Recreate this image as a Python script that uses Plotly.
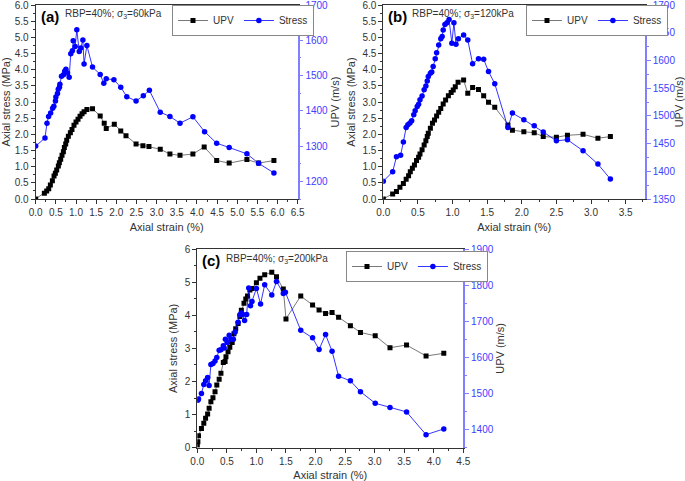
import plotly.graph_objects as go

# ---------- Panel (a): RBP=40%, sigma3=60kPa ----------
a_upv_x = [0, 0.215, 0.273, 0.323, 0.364, 0.414, 0.455, 0.488, 0.521, 0.562, 0.587, 0.62, 0.653, 0.687,
           0.711, 0.744, 0.769, 0.81, 0.86, 0.90, 0.95, 1.0, 1.05, 1.1, 1.15, 1.2, 1.27, 1.41, 1.60, 1.70,
           1.75, 1.95, 2.11, 2.24, 2.49, 2.66, 2.81, 3.09, 3.33, 3.58, 3.90, 4.18, 4.49, 4.80, 5.24, 5.53, 5.91]
a_upv_y = [0, 0.175, 0.247, 0.32, 0.433, 0.567, 0.711, 0.794, 0.897, 1.02, 1.12, 1.23, 1.35, 1.46,
           1.59, 1.70, 1.82, 1.94, 2.05, 2.15, 2.28, 2.38, 2.47, 2.56, 2.64, 2.70, 2.77, 2.79, 2.57, 2.34,
           2.18, 2.31, 2.10, 1.96, 1.70, 1.65, 1.62, 1.54, 1.39, 1.35, 1.39, 1.61, 1.19, 1.11, 1.22, 1.11, 1.19]
a_str_x = [0, 0.23, 0.28, 0.32, 0.37, 0.42, 0.45, 0.49, 0.50, 0.54, 0.56, 0.59, 0.60, 0.64, 0.69, 0.72,
           0.75, 0.79, 0.83, 0.87, 0.91, 0.93, 0.98, 1.02, 1.08, 1.12, 1.17, 1.20, 1.27, 1.41, 1.60, 1.69,
           1.75, 1.94, 2.11, 2.26, 2.49, 2.67, 2.82, 3.09, 3.33, 3.58, 3.90, 4.19, 4.49, 4.80, 5.24, 5.53, 5.91]
a_str_y = [1300, 1323, 1365, 1384, 1394, 1407, 1413, 1428, 1439, 1449, 1461, 1467, 1475, 1498, 1502, 1512,
           1518, 1507, 1495, 1562, 1570, 1599, 1582, 1630, 1568, 1578, 1601, 1533, 1585, 1524, 1503, 1478,
           1491, 1488, 1467, 1440, 1428, 1443, 1458, 1396, 1384, 1365, 1383, 1341, 1308, 1296, 1278, 1251, 1224]

# ---------- Panel (b): RBP=40%, sigma3=120kPa ----------
b_upv_x = [0, 0.135, 0.19, 0.24, 0.29, 0.33, 0.365, 0.39, 0.42, 0.45, 0.48, 0.51, 0.53, 0.56, 0.59, 0.615,
           0.635, 0.65, 0.68, 0.71, 0.74, 0.77, 0.80, 0.83, 0.865, 0.90, 0.94, 0.98, 1.01, 1.04, 1.08, 1.16,
           1.22, 1.29, 1.375, 1.45, 1.52, 1.61, 1.80, 1.865, 2.03, 2.18, 2.31, 2.50, 2.66, 2.885, 3.10, 3.28]
b_upv_y = [0, 0.155, 0.23, 0.36, 0.48, 0.61, 0.72, 0.84, 0.95, 1.05, 1.19, 1.29, 1.39, 1.52, 1.67, 1.80,
           1.93, 2.03, 2.19, 2.34, 2.44, 2.57, 2.68, 2.80, 2.94, 3.06, 3.19, 3.29, 3.37, 3.47, 3.61, 3.68,
           3.27, 3.45, 3.39, 3.19, 2.99, 2.84, 2.29, 2.13, 2.08, 2.05, 1.93, 1.91, 1.97, 2.00, 1.88, 1.93]
b_str_x = [0, 0.135, 0.19, 0.25, 0.29, 0.33, 0.355, 0.385, 0.41, 0.44, 0.46, 0.49, 0.51, 0.53, 0.56, 0.59,
           0.615, 0.635, 0.65, 0.68, 0.70, 0.72, 0.75, 0.77, 0.80, 0.83, 0.85, 0.865, 0.89, 0.92, 0.95, 0.99,
           1.02, 1.05, 1.085, 1.16, 1.22, 1.29, 1.375, 1.45, 1.52, 1.61, 1.80, 1.865, 2.03, 2.18, 2.31, 2.50,
           2.66, 2.885, 3.10, 3.28]
b_str_y = [1382, 1399, 1426, 1429, 1453, 1479, 1484, 1487, 1491, 1502, 1509, 1517, 1521, 1529, 1536, 1547,
           1554, 1563, 1571, 1577, 1579, 1589, 1603, 1614, 1628, 1639, 1643, 1655, 1665, 1668, 1674, 1631,
           1668, 1629, 1639, 1646, 1637, 1594, 1603, 1602, 1580, 1558, 1479, 1505, 1493, 1482, 1471, 1455,
           1457, 1437, 1413, 1386]

# ---------- Panel (c): RBP=40%, sigma3=200kPa ----------
c_upv_x = [0, 0.01, 0.02, 0.07, 0.11, 0.14, 0.175, 0.20, 0.23, 0.265, 0.30, 0.33, 0.37, 0.40, 0.44, 0.47,
           0.485, 0.52, 0.55, 0.59, 0.62, 0.65, 0.69, 0.72, 0.745, 0.79, 0.82, 0.85, 0.89, 0.925, 1.0, 1.06,
           1.14, 1.26, 1.34, 1.455, 1.50, 1.75, 1.95, 2.06, 2.17, 2.28, 2.39, 2.59, 2.76, 3.01, 3.26, 3.54,
           3.87, 4.17]
c_upv_y = [0.08, 0.18, 0.36, 0.58, 0.74, 0.89, 1.02, 1.19, 1.39, 1.51, 1.69, 1.89, 2.07, 2.25, 2.57, 2.60,
           2.75, 2.90, 3.03, 3.18, 3.44, 3.59, 3.75, 3.96, 4.15, 4.36, 4.49, 4.58, 4.76, 4.81, 4.98, 5.12,
           5.22, 5.30, 5.16, 4.79, 3.89, 4.58, 4.31, 4.16, 4.05, 4.08, 3.94, 3.68, 3.48, 3.38, 3.02, 3.10,
           2.77, 2.85]
c_str_x = [0.01, 0.02, 0.07, 0.11, 0.14, 0.175, 0.20, 0.23, 0.265, 0.30, 0.33, 0.37, 0.40, 0.44, 0.455,
           0.475, 0.51, 0.54, 0.575, 0.61, 0.64, 0.69, 0.72, 0.745, 0.77, 0.80, 0.835, 0.87, 0.90, 0.925,
           1.0, 1.07, 1.14, 1.26, 1.34, 1.455, 1.49, 1.75, 1.95, 2.06, 2.17, 2.28, 2.39, 2.59, 2.76, 3.01,
           3.26, 3.54, 3.87, 4.17]
c_str_y = [1481, 1485, 1500, 1525, 1535, 1544, 1522, 1580, 1583, 1590, 1600, 1620, 1621, 1632, 1626,
           1650, 1641, 1661, 1650, 1650, 1670, 1697, 1718, 1723, 1719, 1702, 1719, 1792, 1743, 1755,
           1791, 1748, 1801, 1773, 1810, 1777, 1780, 1675, 1654, 1622, 1663, 1617, 1548, 1535, 1505, 1473,
           1461, 1449, 1386, 1402]

panel_labels = ["(a)", "(b)", "(c)"]
panel_conds = ["RBP=40%; σ<sub>3</sub>=60kPa", "RBP=40%; σ<sub>3</sub>=120kPa", "RBP=40%; σ<sub>3</sub>=200kPa"]

W, H = 685, 481
def fx(px):
    return px / W
def fy(py):
    return 1 - py / H

BLUE = "#0000ff"
AXBLUE = "#7f7fff"
TICKBLUE = "#4040ff"
GREY = "#333333"
FONT = "Liberation Sans, Arial, sans-serif"

fig = go.Figure()

panels = [
    dict(ux=a_upv_x, uy=a_upv_y, sx=a_str_x, sy=a_str_y, xd=[35.7, 297.7], yd=[5, 199],
         xr=[0, 6.5], xdt=0.5, yr=[0, 6], ydt=0.5, y2r=[1150, 1700], y2dt=100, y2tick0=1200,
         legx=172, legy=5, ytickfmt=".1f"),
    dict(ux=b_upv_x, uy=b_upv_y, sx=b_str_x, sy=b_str_y, xd=[383.3, 645], yd=[5, 199],
         xr=[0, 3.78], xdt=0.5, yr=[0, 6], ydt=0.5, y2r=[1350, 1700], y2dt=50, y2tick0=1350,
         legx=526, legy=5, ytickfmt=".1f"),
    dict(ux=c_upv_x, uy=c_upv_y, sx=c_str_x, sy=c_str_y, xd=[197.3, 463.3], yd=[249, 447.7],
         xr=[0, 4.5], xdt=0.5, yr=[0, 6], ydt=1, y2r=[1350, 1900], y2dt=100, y2tick0=1400,
         legx=346, legy=251, ytickfmt="d"),
]

layout = dict(
    width=W, height=H, margin=dict(l=0, r=0, t=0, b=0, autoexpand=False),
    paper_bgcolor="white", plot_bgcolor="white",
    font=dict(family=FONT, size=10, color=GREY),
    annotations=[],
)

for i, p in enumerate(panels):
    xn = "" if i == 0 else str(i + 1)
    yl = "" if i == 0 else str(2 * i + 1)
    yr_ = str(2 * i + 2)
    legname = "legend" if i == 0 else "legend%d" % (i + 1)

    fig.add_trace(go.Scatter(
        x=p["ux"], y=p["uy"], xaxis="x" + xn, yaxis="y" + yl, name="UPV",
        mode="lines+markers", line=dict(color="#555555", width=0.8),
        marker=dict(symbol="square", size=5, color="black"), legend=legname))
    fig.add_trace(go.Scatter(
        x=p["sx"], y=p["sy"], xaxis="x" + xn, yaxis="y" + yr_, name="Stress",
        mode="lines+markers", line=dict(color=BLUE, width=0.8),
        marker=dict(symbol="circle", size=5.5, color=BLUE), legend=legname))

    xd = [fx(p["xd"][0]), fx(p["xd"][1])]
    yd = [fy(p["yd"][1]), fy(p["yd"][0])]

    layout["xaxis" + xn] = dict(
        domain=xd, anchor="y" + yl, range=p["xr"], dtick=p["xdt"], tick0=0, automargin=False,
        ticklabeloverflow="allow",
        tickformat=".1f", showgrid=False, zeroline=False, showline=True, linecolor=GREY,
        linewidth=1, mirror=True, ticks="outside", ticklen=4, tickcolor=GREY,
        minor=dict(ticks="outside", ticklen=2, dtick=p["xdt"] / 2, tickcolor=GREY, showgrid=False),
        tickfont=dict(size=10, color=GREY),
        title=dict(text="Axial strain (%)", font=dict(size=11, color=GREY), standoff=6),
    )
    layout["yaxis" + yl] = dict(
        domain=yd, anchor="x" + xn, range=p["yr"], dtick=p["ydt"], tick0=0, automargin=False,
        ticklabeloverflow="allow",
        tickformat=p["ytickfmt"], showgrid=False, zeroline=False, showline=True,
        linecolor=GREY, linewidth=1, ticks="outside", ticklen=4, tickcolor=GREY,
        minor=dict(ticks="outside", ticklen=2, dtick=p["ydt"] / 2, tickcolor=GREY, showgrid=False),
        tickfont=dict(size=10, color=GREY),
        title=dict(text="Axial stress (MPa)", font=dict(size=11, color=GREY), standoff=4),
    )
    layout["yaxis" + yr_] = dict(
        overlaying="y" + yl, side="right", anchor="x" + xn, range=p["y2r"], automargin=False,
        ticklabeloverflow="allow",
        dtick=p["y2dt"], tick0=p["y2tick0"], showgrid=False, zeroline=False,
        showline=True, linecolor=AXBLUE, linewidth=1.5, ticks="outside", ticklen=4,
        tickcolor=AXBLUE,
        minor=dict(ticks="outside", ticklen=2, dtick=p["y2dt"] / 2, tickcolor=AXBLUE, showgrid=False),
        tickfont=dict(size=10, color=TICKBLUE),
        title=dict(text="UPV (m/s)", font=dict(size=11, color=GREY), standoff=4),
    )
    layout[legname] = dict(
        x=fx(p["legx"]), y=fy(p["legy"]), xanchor="left", yanchor="top",
        orientation="h", bgcolor="white", bordercolor="#888888", borderwidth=1,
        font=dict(size=10, color=GREY), itemwidth=30, tracegroupgap=0,
        traceorder="normal",
    )
    layout["annotations"].append(dict(
        text="<b>%s</b>" % panel_labels[i], x=fx(p["xd"][0] + 3), y=fy(p["yd"][0] + 1),
        xref="paper", yref="paper", xanchor="left", yanchor="top", showarrow=False,
        font=dict(size=15, color="black", family=FONT)))
    layout["annotations"].append(dict(
        text=panel_conds[i], x=fx(p["xd"][0] + 27), y=fy(p["yd"][0] + 1.5),
        xref="paper", yref="paper", xanchor="left", yanchor="top", showarrow=False,
        font=dict(size=10, color=GREY, family=FONT)))

fig.update_layout(**layout)
fig.write_html("out.html", config={"displayModeBar": False},
               post_script="document.body.style.margin='0';document.body.style.overflow='hidden';")
